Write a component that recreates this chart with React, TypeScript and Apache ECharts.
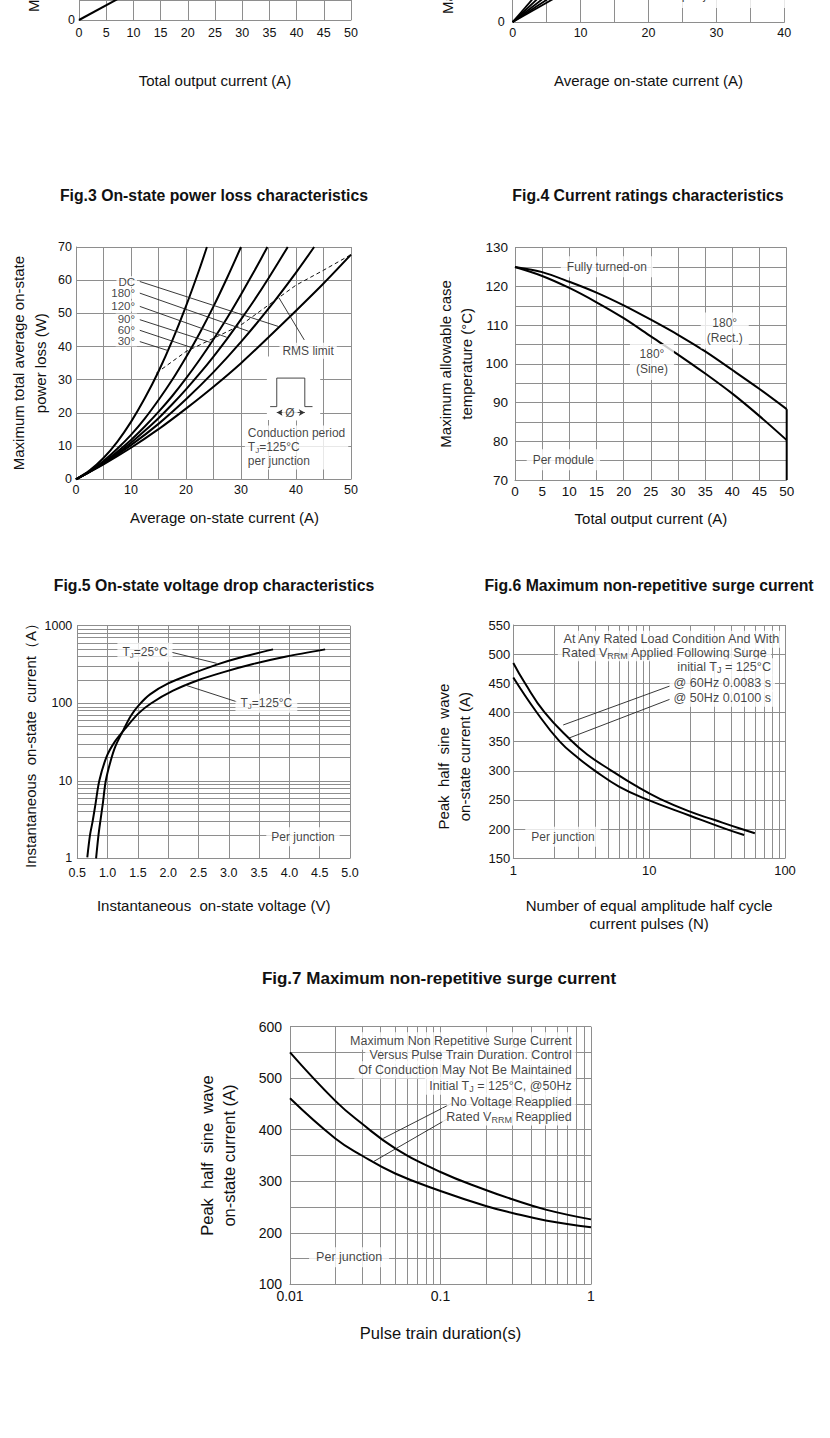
import React, { useEffect, useRef } from 'react';
import * as echarts from 'echarts';

const FONT = '"Liberation Sans", Arial, Helvetica, sans-serif';
const GRID = '#8e8e8e';
const INK = '#111';

// ---------------- Fig.1 (only its bottom edge is on the page)
const fig1Curve = [[0, 0], [7.5, 22.7]];

// ---------------- Fig.2 (only its bottom edge is on the page)
const fig2Curves = [
  [[0, 0], [3.4, 8]],
  [[0, 0], [4.2, 8]],
  [[0, 0], [5.1, 8]],
  [[0, 0], [6.0, 8]],
  [[0, 0], [6.9, 8]],
];
const fig2Notes = [{ x: 24.3, y: 12.0, text: 'Conduction period\nT{s|J}=125°C\nper junction', align: 'left' }];

// ---------------- Fig.3 On-state power loss (A -> W)
const fig3Dc = [[0, 0], [5, 4.5], [10, 9.5], [15, 15.1], [20, 21.3], [25, 27.9], [30, 35.0], [35, 42.8], [40, 50.8], [45, 59.0], [50, 67.7]];
const fig3Deg180 = [[0, 0], [5, 4.7], [10, 10.3], [15, 16.7], [20, 24.1], [25, 32.3], [30, 41.4], [35, 51.4], [40, 62.3], [43.3, 70]];
const fig3Deg120 = [[0, 0], [2.5, 2.3], [5, 4.9], [7.5, 7.8], [10, 11], [12.5, 14.6], [15, 18.4], [17.5, 22.6], [20, 27.1], [22.5, 31.9], [25, 37], [27.5, 42.4], [30, 48.2], [32.5, 54.2], [35, 60.6], [38.5, 70]];
const fig3Deg90 = [[0, 0], [2.5, 2.3], [5, 5.1], [7.5, 8.3], [10, 11.85], [12.5, 15.9], [15, 20.3], [17.5, 25.1], [20, 30.4], [22.5, 36.1], [25, 42.2], [27.5, 48.7], [30, 55.7], [32.5, 63], [34.8, 70]];
const fig3Deg60 = [[0, 0], [2.5, 2.4], [5, 5.5], [7.5, 9.2], [10, 13.4], [12.5, 18.3], [15, 23.9], [17.5, 30], [20, 36.8], [22.5, 44.1], [25, 52.1], [27.5, 60.8], [30, 70]];
const fig3Deg30 = [[0, 0], [2.5, 2.7], [5, 6.4], [7.5, 11.3], [10, 17.3], [12.5, 24.4], [15, 32.5], [17.5, 41.8], [20, 52.2], [22.5, 63.6], [23.8, 70]];
const fig3Rms = [[14.6, 32], [20, 38.5], [25, 42.5], [30, 46.5], [35, 52.5], [40, 58.5], [45, 63], [50, 67.7]];
const fig3Pulse = [[35.3, 21.9], [36.5, 21.9], [36.5, 30.5], [41.6, 30.5], [41.6, 21.9], [43, 21.9]];
const fig3Leaders = [
  [[11.6, 59.6], [36.9, 46.0]],
  [[11.6, 56.1], [31.4, 44.6]],
  [[11.6, 52.1], [27.4, 42.8]],
  [[11.6, 48.1], [24.5, 41.2]],
  [[11.6, 44.9], [21.0, 39.7]],
  [[11.6, 41.5], [16.7, 38.8]],
  [[41.5, 42.0], [36.9, 54.7]],
];
const fig3AngleNotes = [
  { x: 11.1, y: 59.55, text: 'DC', align: 'right' },
  { x: 11.1, y: 56.06, text: '180°', align: 'right' },
  { x: 11.1, y: 52.2, text: '120°', align: 'right' },
  { x: 11.1, y: 48.3, text: '90°', align: 'right' },
  { x: 11.1, y: 45.0, text: '60°', align: 'right' },
  { x: 11.1, y: 41.7, text: '30°', align: 'right' },
];
const fig3Notes = [
  { x: 42.2, y: 38.7, text: 'RMS limit', align: 'center' },
  { x: 38.9, y: 20.1, text: 'Ø', align: 'center' },
  { x: 30.7, y: 9.6, text: 'Conduction period\nT{s|J}=125°C\nper junction', align: 'left' },
];

// ---------------- Fig.4 Current ratings (A -> °C)
const fig4X = [0, 5, 10, 15, 20, 25, 30, 35, 40, 45, 50];
const fig4Rect = [125, 123.7, 121.2, 118.4, 115.1, 111.4, 107.5, 103.2, 98.4, 93.5, 88.3];
const fig4Sine = [125, 122.7, 119.6, 115.9, 111.8, 107.1, 102.4, 97.5, 92.3, 86.5, 80.3];
const fig4Drop = [[50, 88.3], [50, 70]];
const fig4Notes = [
  { x: 16.9, y: 125.1, text: 'Fully turned-on', align: 'center' },
  { x: 38.6, y: 108.6, text: '180°\n(Rect.)', align: 'center' },
  { x: 25.2, y: 100.5, text: '180°\n(Sine)', align: 'center' },
  { x: 8.9, y: 75.2, text: 'Per module', align: 'center' },
];

// ---------------- Fig.5 On-state voltage drop (V -> A, log)
const fig5Tj25 = [[0.81, 1], [0.85, 2], [0.88, 3], [0.92, 5], [0.97, 10], [1.05, 18], [1.13, 28], [1.26, 45], [1.38, 68], [1.52, 95], [1.7, 130], [2.0, 180], [2.45, 250], [2.8, 315], [3.25, 400], [3.73, 495]];
const fig5Tj125 = [[0.665, 1.03], [0.71, 2], [0.753, 3], [0.8, 5], [0.863, 10], [0.984, 20.5], [1.12, 32], [1.29, 47], [1.51, 74], [1.72, 100], [2.08, 145], [2.47, 195], [2.9, 250], [3.4, 320], [3.95, 400], [4.59, 495]];
const fig5MinorY = [2, 3, 4, 5, 6, 7, 8, 9, 20, 30, 40, 50, 60, 70, 80, 90, 200, 300, 400, 500, 600, 700, 800, 900];
const fig5Leaders = [
  [[2.058, 454], [2.8, 327]],
  [[3.13, 104.6], [2.277, 172]],
];
const fig5Notes = [
  { x: 1.617, y: 454, text: 'T{s|J}=25°C', align: 'center' },
  { x: 3.62, y: 99.8, text: 'T{s|J}=125°C', align: 'center' },
  { x: 4.224, y: 1.9, text: 'Per junction', align: 'center' },
];

// ---------------- Fig.6 Surge current vs pulses (N log -> A)
const fig6Hz60 = [[1, 485], [1.22, 450], [1.7, 400], [2.61, 354], [3.5, 328], [5.3, 300], [8, 274], [12, 252], [20, 230], [30, 216], [46.6, 201], [60, 193]];
const fig6Hz50 = [[1, 460], [1.49, 400], [2.2, 350], [3, 322], [4, 300], [6, 273], [9.6, 251], [20, 223], [37, 200], [50, 190]];
const fig6MinorX = [2, 3, 4, 5, 6, 7, 8, 9, 20, 30, 40, 50, 60, 70, 80, 90];
const fig6Leaders = [
  [[14.2, 445.4], [2.33, 378.6]],
  [[14.2, 422.6], [2.54, 355.7]],
];
const fig6Notes = [
  { x: 14.56, y: 525.5, text: 'At Any Rated Load Condition And With', align: 'center' },
  { x: 12.97, y: 502.5, text: 'Rated V{s|RRM} Applied Following Surge', align: 'center' },
  { x: 84.4, y: 478.5, text: 'initial T{s|J} = 125°C', align: 'right' },
  { x: 84.4, y: 450, text: '@ 60Hz 0.0083 s', align: 'right' },
  { x: 84.4, y: 424.3, text: '@ 50Hz 0.0100 s', align: 'right' },
];
const fig6Junction = [{ x: 2.32, y: 187.1, text: 'Per junction', align: 'center' }];

// ---------------- Fig.7 Surge current vs pulse train duration (s log -> A)
const fig7NoVoltage = [[0.01, 550], [0.02, 456], [0.03, 412], [0.05, 364], [0.1, 318], [0.2, 283], [0.3, 265], [0.5, 245], [1, 226]];
const fig7RatedVrrm = [[0.01, 461], [0.02, 383], [0.03, 350], [0.05, 315], [0.1, 281], [0.2, 252], [0.3, 238.5], [0.5, 224], [1, 210.6]];
const fig7MinorX = [0.02, 0.03, 0.04, 0.05, 0.06, 0.07, 0.08, 0.09, 0.2, 0.3, 0.4, 0.5, 0.6, 0.7, 0.8, 0.9];
const fig7Leaders = [
  [[0.1186, 451.2], [0.0417, 383.3]],
  [[0.1156, 424], [0.0358, 338]],
];
const fig7Notes = [
  { x: 0.791, y: 572.2, text: 'Maximum Non Repetitive Surge Current', align: 'right' },
  { x: 0.791, y: 545.1, text: 'Versus Pulse Train Duration. Control', align: 'right' },
  { x: 0.791, y: 516, text: 'Of Conduction May Not Be Maintained', align: 'right' },
  { x: 0.791, y: 484.9, text: 'Initial T{s|J} = 125°C, @50Hz', align: 'right' },
  { x: 0.791, y: 453.3, text: 'No Voltage Reapplied', align: 'right' },
  { x: 0.791, y: 425.3, text: 'Rated V{s|RRM} Reapplied', align: 'right' },
];
const fig7Junction = [{ x: 0.0247, y: 152.4, text: 'Per junction', align: 'center' }];

// ---------------------------------------------------------------------------
type AxisOpt = {
  type?: 'value' | 'log'; min: number; max: number; interval?: number;
  labelSize: number; margin: number; formatter?: any; name?: string; nameGap?: number;
  nameSize?: number; nameLH?: number; namePad?: any; rotate?: number; split?: boolean;
};

function axis(gi: number, o: AxisOpt) {
  const a: any = {
    gridIndex: gi,
    type: o.type || 'value',
    min: o.min,
    max: o.max,
    axisLine: { show: true, onZero: false, lineStyle: { color: GRID, width: 1 } },
    axisTick: { show: false },
    splitLine: { show: o.split !== false, lineStyle: { color: GRID, width: 1 } },
    axisLabel: { color: INK, fontFamily: FONT, fontSize: o.labelSize, margin: o.margin, showMinLabel: true, showMaxLabel: true },
    name: o.name || '',
    nameLocation: 'middle',
    nameGap: o.nameGap || 0,
    nameTextStyle: { color: INK, fontFamily: FONT, fontSize: o.nameSize || 15, lineHeight: o.nameLH || (o.nameSize || 15) + 2, padding: o.namePad || 0 },
  };
  if (o.interval != null) a.interval = o.interval;
  if (o.type === 'log') a.logBase = 10;
  a.axisLabel.formatter = o.formatter || ((v: number) => String(v));
  if (o.rotate != null) a.nameRotate = o.rotate;
  return a;
}

function curve(gi: number, data: number[][], o: any = {}) {
  return {
    type: 'line', xAxisIndex: gi, yAxisIndex: gi, data,
    symbol: 'none', showSymbol: false, silent: true, clip: true, z: 3,
    smooth: o.smooth ?? 0.3,
    lineStyle: { color: o.color || '#000', width: o.width ?? 2, type: o.type || 'solid' },
    ...(o.extra || {}),
  };
}

function leaders(gi: number, list: number[][][]) {
  return list.map((d) => curve(gi, d, { width: 0.9, color: '#222', smooth: false }));
}

function rich(fs: number) {
  return { s: { fontSize: Math.round(fs * 0.68), lineHeight: Math.round(fs * 0.68), verticalAlign: 'bottom', fontFamily: FONT, color: INK } };
}

function notes(gi: number, items: any[], fs: number, pad: any, lh?: number) {
  return {
    type: 'scatter', xAxisIndex: gi, yAxisIndex: gi, silent: true, z: 6,
    symbolSize: 1, itemStyle: { color: 'rgba(0,0,0,0)' },
    label: {
      show: true, position: 'inside', color: INK, fontFamily: FONT, fontSize: fs,
      lineHeight: lh || fs + 3, backgroundColor: '#fff', padding: pad, rich: rich(fs),
    },
    data: items.map((n) => ({ value: [n.x, n.y], label: { formatter: n.text, align: n.align } })),
  };
}

function minorGrid(gi: number, key: 'xAxis' | 'yAxis', values: number[], anchor: number[]) {
  return {
    type: 'line', xAxisIndex: gi, yAxisIndex: gi, data: [anchor], symbol: 'none', showSymbol: false,
    silent: true, z: 1, lineStyle: { width: 0, opacity: 0 },
    markLine: {
      silent: true, symbol: ['none', 'none'], label: { show: false }, z: 1, animation: false,
      lineStyle: { color: GRID, width: 1, type: 'solid' },
      emphasis: { disabled: true },
      data: values.map((v) => ({ [key]: v })),
    },
  };
}

const every10 = (v: number) => (Math.round(v) % 10 === 0 ? String(v) : '');
const every100 = (v: number) => (Math.round(v) % 100 === 0 ? String(v) : '');
const onlyZero = (v: number) => (v === 0 ? '0' : '');

function buildOption() {
  const titleStyle = { fontSize: 15.8, fontWeight: 'bold', fontFamily: FONT, fill: INK, align: 'center', verticalAlign: 'middle' };
  const graphic = [
    { type: 'text', x: 214, y: 195, z: 10, style: { ...titleStyle, text: 'Fig.3 On-state power loss characteristics' } },
    { type: 'text', x: 648, y: 195, z: 10, style: { ...titleStyle, text: 'Fig.4 Current ratings characteristics' } },
    { type: 'text', x: 214, y: 585, z: 10, style: { ...titleStyle, text: 'Fig.5 On-state voltage drop characteristics' } },
    { type: 'text', x: 649, y: 585, z: 10, style: { ...titleStyle, text: 'Fig.6 Maximum non-repetitive surge current' } },
    { type: 'text', x: 439, y: 978, z: 10, style: { ...titleStyle, fontSize: 17, text: 'Fig.7 Maximum non-repetitive surge current' } },
    { type: 'text', x: 33, y: 12, rotation: Math.PI / 2, z: 10, style: { text: 'Maximum total power loss (W)', fontSize: 15, fontFamily: FONT, fill: INK, align: 'left', verticalAlign: 'middle' } },
    { type: 'text', x: 447, y: 14, rotation: Math.PI / 2, z: 10, style: { text: 'Maximum average on-state power loss (W)', fontSize: 15, fontFamily: FONT, fill: INK, align: 'left', verticalAlign: 'middle' } },
  ];

  const g = (left: number, top: number, width: number, height: number) => ({ left, top, width, height, containLabel: false, outerBoundsMode: 'none' });
  const grid = [
    g(79, -116.5, 272, 136.5),
    g(512.7, -211, 271.6, 233),
    g(76, 247, 275, 232.3),
    g(515, 247.7, 271.7, 232.3),
    g(77.3, 625.7, 272.7, 232.6),
    g(513.3, 625, 271.7, 233.3),
    g(290, 1026.7, 301, 257.6),
  ];

  const xAxis = [
    axis(0, { min: 0, max: 50, interval: 5, labelSize: 12.5, margin: 6, name: 'Total output current (A)', nameGap: 51.5 }),
    axis(1, { min: 0, max: 40, interval: 5, labelSize: 12.5, margin: 4, formatter: every10, name: 'Average on-state current (A)', nameGap: 49.5 }),
    axis(2, { min: 0, max: 50, interval: 5, labelSize: 12.5, margin: 4, formatter: every10, name: 'Average on-state current (A)', nameGap: 30, namePad: [0, 0, 0, 22] }),
    axis(3, { min: 0, max: 50, interval: 5, labelSize: 13.5, margin: 4, name: 'Total output current (A)', nameGap: 30 }),
    axis(4, { min: 0.5, max: 5, interval: 0.5, labelSize: 12.5, margin: 8, formatter: (v: number) => v.toFixed(1), name: 'Instantaneous  on-state voltage (V)', nameGap: 39 }),
    axis(5, { type: 'log', min: 1, max: 100, labelSize: 13, margin: 6, name: 'Number of equal amplitude half cycle\ncurrent pulses (N)', nameGap: 37.5, nameLH: 18.5 }),
    axis(6, { type: 'log', min: 0.01, max: 1, labelSize: 14, margin: 5, name: 'Pulse train duration(s)', nameGap: 39, nameSize: 16.5 }),
  ];

  const yAxis = [
    axis(0, { min: 0, max: 140, interval: 20, labelSize: 12.5, margin: 4, formatter: onlyZero }),
    axis(1, { min: 0, max: 70, interval: 10, labelSize: 12.5, margin: 8, formatter: onlyZero }),
    axis(2, { min: 0, max: 70, interval: 10, labelSize: 12.5, margin: 4, name: 'Maximum total average on-state\npower loss (W)', nameGap: 25, nameLH: 21.6, rotate: 90 }),
    axis(3, { min: 70, max: 130, interval: 5, labelSize: 13.5, margin: 7, formatter: every10, name: 'Maximum allowable case\ntemperature (°C)', nameGap: 38, nameLH: 21, rotate: 90 }),
    axis(4, { type: 'log', min: 1, max: 1000, labelSize: 12.5, margin: 5, name: 'Instantaneous  on-state  current（A）', nameGap: 38, rotate: 90 }),
    axis(5, { min: 150, max: 550, interval: 50, labelSize: 13, margin: 3, name: 'Peak  half  sine  wave\non-state current (A)', nameGap: 38, nameLH: 21, rotate: 90, namePad: [0, 30, 0, 0] }),
    axis(6, { min: 100, max: 600, interval: 50, labelSize: 14, margin: 8, formatter: every100, name: 'Peak  half  sine  wave\non-state current (A)', nameGap: 50, nameSize: 16.5, nameLH: 21.7, rotate: 90 }),
  ];

  const series: any[] = [
    // Fig.1
    curve(0, fig1Curve, { smooth: false }),
    // Fig.2
    ...fig2Curves.map((d) => curve(1, d, { smooth: false, width: 1.8 })),
    notes(1, fig2Notes, 12.5, [4, 14, 6, 4], 14),
    // Fig.3
    curve(2, fig3Dc), curve(2, fig3Deg180), curve(2, fig3Deg120), curve(2, fig3Deg90), curve(2, fig3Deg60), curve(2, fig3Deg30),
    curve(2, fig3Rms, { width: 1, type: [4, 3], smooth: false, color: '#111' }),
    curve(2, fig3Pulse, {
      width: 0.9, color: '#333', smooth: false,
      extra: {
        markArea: { silent: true, label: { show: false }, itemStyle: { color: '#fff', opacity: 1 }, data: [[{ coord: [34.7, 17.9] }, { coord: [44.4, 37] }]] },
        markLine: {
          silent: true, symbol: ['arrow', 'arrow'], symbolSize: [5, 6], label: { show: false }, z: 4, animation: false,
          lineStyle: { color: '#333', width: 0.9, type: 'solid' },
          data: [[{ coord: [36.5, 20.1] }, { coord: [41.6, 20.1] }]],
        },
      },
    }),
    ...leaders(2, fig3Leaders),
    notes(2, fig3AngleNotes, 11.5, [0, 2], 11),
    notes(2, fig3Notes, 12, [1, 3], 14),
    // Fig.4
    curve(3, fig4X.map((x, i) => [x, fig4Rect[i]])),
    curve(3, fig4X.map((x, i) => [x, fig4Sine[i]])),
    curve(3, fig4Drop, { smooth: false }),
    notes(3, fig4Notes, 12, [3, 6], 15),
    // Fig.5
    minorGrid(4, 'yAxis', fig5MinorY, [0.5, 1]),
    curve(4, fig5Tj25), curve(4, fig5Tj125),
    ...leaders(4, fig5Leaders),
    notes(4, fig5Notes, 12, [2, 5], 15),
    // Fig.6
    minorGrid(5, 'xAxis', fig6MinorX, [1, 150]),
    curve(5, fig6Hz60, { smooth: 0.45 }), curve(5, fig6Hz50, { smooth: 0.45 }),
    ...leaders(5, fig6Leaders),
    notes(5, fig6Notes, 12.6, [1, 4], 15),
    notes(5, fig6Junction, 12, [3, 6], 14),
    // Fig.7
    minorGrid(6, 'xAxis', fig7MinorX, [0.01, 100]),
    curve(6, fig7NoVoltage, { smooth: 0.45 }), curve(6, fig7RatedVrrm, { smooth: 0.45 }),
    ...leaders(6, fig7Leaders),
    notes(6, fig7Notes, 12.5, [1, 4], 15.5),
    notes(6, fig7Junction, 12.5, [3, 7], 14),
  ];

  return {
    animation: false,
    backgroundColor: '#fff',
    textStyle: { fontFamily: FONT },
    graphic,
    grid,
    xAxis,
    yAxis,
    series,
  };
}

export default function App() {
  const ref = useRef<HTMLDivElement>(null);
  useEffect(() => {
    if (!ref.current) return;
    const chart = echarts.init(ref.current, undefined, { renderer: 'svg' });
    chart.setOption(buildOption() as any);
    return () => chart.dispose();
  }, []);
  return (
    <div
      ref={ref}
      style={{ position: 'absolute', left: 0, top: 0, width: 830, height: 1438, background: '#fff' }}
    />
  );
}
